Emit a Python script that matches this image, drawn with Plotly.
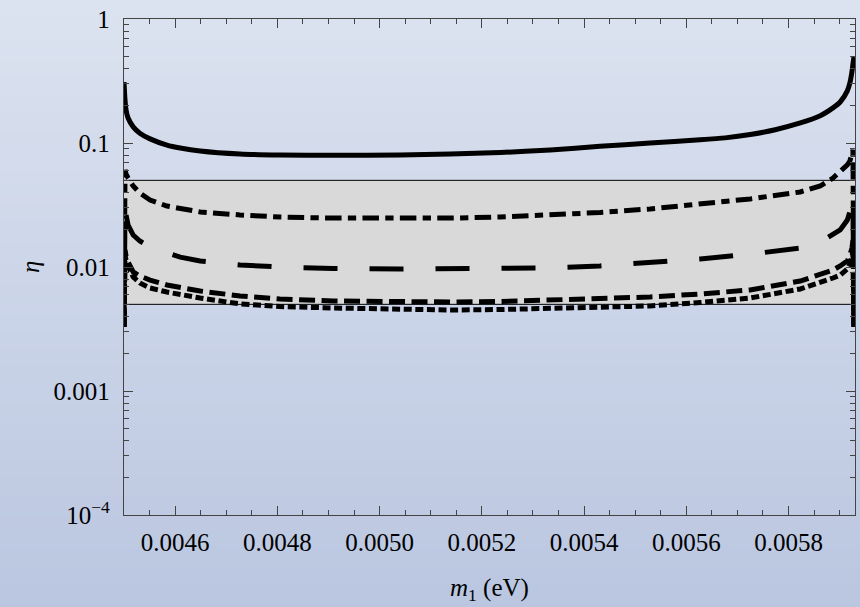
import plotly.graph_objects as go

# ---- data ----
m1 = [0.004500, 0.004502, 0.004504, 0.004508, 0.004518, 0.004531, 0.004551, 0.004584,
      0.004610, 0.004649, 0.004727, 0.004805, 0.004909, 0.005040, 0.005138, 0.005236,
      0.005334, 0.005431, 0.005529, 0.005627, 0.005725, 0.005823, 0.005862, 0.005887,
      0.005901, 0.005915, 0.005920, 0.005924, 0.005926, 0.005928]

m1_solid = [0.004500, 0.004502, 0.004504, 0.004508, 0.004518, 0.004531, 0.004551, 0.004584,
            0.004610, 0.004649, 0.004727, 0.004805, 0.004909, 0.005040, 0.005138, 0.005236,
            0.005334, 0.005431, 0.005529, 0.005627, 0.005676, 0.005725, 0.005774, 0.005823,
            0.005862, 0.005887, 0.005901, 0.005915, 0.005920, 0.005924, 0.005926, 0.005928]
eta_solid = [0.310, 0.222, 0.185, 0.159, 0.135, 0.120, 0.108, 0.0963,
             0.0912, 0.0862, 0.0815, 0.0800, 0.0795, 0.0800, 0.0815, 0.0838,
             0.0879, 0.0940, 0.100, 0.1060, 0.110, 0.117, 0.128, 0.145,
             0.166, 0.192, 0.214, 0.263, 0.305, 0.374, 0.434, 0.494]

eta_dashdot = [0.00328, 0.0606, 0.0562, 0.0522, 0.0450, 0.0395, 0.0347, 0.0310,
               0.0294, 0.0278, 0.0263, 0.0253, 0.0248, 0.0246, 0.0248, 0.0253,
               0.0263, 0.0275, 0.0294, 0.0322, 0.0354, 0.0403, 0.0450, 0.0522,
               0.0584, 0.0665, 0.0716, 0.0800, 0.0879, 0.00328]

eta_longdash = [0.00328, 0.0316, 0.0263, 0.0218, 0.0181, 0.0162, 0.0145, 0.0130,
                0.0120, 0.0112, 0.0104, 0.0100, 0.00973, 0.00964, 0.00964, 0.00973,
                0.00982, 0.0102, 0.0108, 0.0116, 0.0127, 0.0142, 0.0159, 0.0181,
                0.0199, 0.0239, 0.0272, 0.0316, 0.0359, 0.00328]

eta_dash = [0.00328, 0.0137, 0.0123, 0.0110, 0.00912, 0.00846, 0.00785, 0.00716,
            0.00683, 0.00640, 0.00584, 0.00552, 0.00532, 0.00522, 0.00522, 0.00527,
            0.00542, 0.00557, 0.00573, 0.00606, 0.00653, 0.00771, 0.00861, 0.00946,
            0.0102, 0.0112, 0.0125, 0.0142, 0.0165, 0.00328]

eta_dot = [0.00328, 0.0125, 0.0114, 0.0102, 0.0083, 0.00743, 0.00677, 0.00628,
           0.00600, 0.00562, 0.00504, 0.00480, 0.00467, 0.00454, 0.00450, 0.00454,
           0.00463, 0.00471, 0.00485, 0.00517, 0.00562, 0.00665, 0.00743, 0.00815,
           0.00861, 0.00964, 0.0106, 0.0118, 0.0132, 0.00328]

band_low = 0.005
band_high = 0.05
x_range = [0.0045, 0.00593]

x_tickvals = [0.0046, 0.0048, 0.0050, 0.0052, 0.0054, 0.0056, 0.0058]
x_ticktext = ["0.0046", "0.0048", "0.0050", "0.0052", "0.0054", "0.0056", "0.0058"]
y_tickvals = [1e-4, 1e-3, 1e-2, 1e-1, 1]
y_ticktext = ["10<sup>\u22124</sup>", "0.001", "0.01", "0.1", "1"]
y_minor = [d * 10.0 ** e for e in range(-4, 0) for d in range(2, 10)]

FONT = "Liberation Serif"
FRAME = "#444444"

fig = go.Figure()

# shaded band
fig.add_trace(go.Scatter(
    x=[x_range[0], x_range[1], x_range[1], x_range[0], x_range[0]],
    y=[band_low, band_low, band_high, band_high, band_low],
    fill="toself", fillcolor="#d9d9d9", mode="lines", line=dict(width=0),
    hoverinfo="skip", showlegend=False))
for yv in (band_low, band_high):
    fig.add_trace(go.Scatter(x=x_range, y=[yv, yv], mode="lines",
                             line=dict(color="black", width=1),
                             hoverinfo="skip", showlegend=False))

fig.add_trace(go.Scatter(x=m1_solid, y=eta_solid, mode="lines",
                         line=dict(color="black", width=5, shape="spline", smoothing=0.6),
                         showlegend=False))

styles = [
    (eta_dashdot, "16.5px,6.3px,8.3px,6.3px"),
    (eta_longdash, "34px,32px"),
    (eta_dash, "16px,6.5px"),
    (eta_dot, "8px,3.6px"),
]
for ys, dash in styles:
    fig.add_trace(go.Scatter(x=m1, y=ys, mode="lines",
                             line=dict(color="black", width=5, dash=dash),
                             showlegend=False))

# vertical gradient background
top = (220, 227, 240)
bot = (186, 198, 224)
n = 120
y0p, y1p = -0.2, 1.05
shapes = []
for i in range(n):
    t = i / (n - 1)
    c = tuple(round(top[k] + (bot[k] - top[k]) * t) for k in range(3))
    ya = y1p - (y1p - y0p) * i / n
    yb = y1p - (y1p - y0p) * (i + 1) / n - 0.002
    shapes.append(dict(type="rect", xref="paper", yref="paper", x0=-0.2, x1=1.02,
                       y0=yb, y1=ya, line=dict(width=0),
                       fillcolor="rgb(%d,%d,%d)" % c, layer="below"))

axis_common = dict(showline=True, linecolor=FRAME, linewidth=1.3, mirror="ticks",
                   ticks="inside", ticklen=9, tickwidth=1.2, tickcolor=FRAME,
                   showgrid=False, zeroline=False,
                   tickfont=dict(family=FONT, size=25, color="black"))

fig.update_layout(
    width=860, height=607,
    margin=dict(l=124, r=5, t=19, b=92),
    paper_bgcolor="rgb(205,214,234)",
    plot_bgcolor="rgba(0,0,0,0)",
    shapes=shapes,
    showlegend=False,
    xaxis=dict(range=x_range, tickmode="array", tickvals=x_tickvals, ticktext=x_ticktext,
               minor=dict(dtick=0.00005, tick0=0.0045, ticks="inside", ticklen=5,
                          tickwidth=1, tickcolor=FRAME, showgrid=False),
               ticklabelstandoff=5,
               **axis_common),
    yaxis=dict(type="log", range=[-4, 0], tickmode="array", tickvals=y_tickvals,
               ticktext=y_ticktext,
               minor=dict(tickvals=y_minor, ticks="inside", ticklen=5,
                          tickwidth=1, tickcolor=FRAME, showgrid=False),
               ticklabelstandoff=8,
               **axis_common),
    annotations=[
        dict(text="<i>m</i><sub>1</sub> (eV)", xref="paper", yref="paper",
             x=0.5, y=-0.151, xanchor="center", yanchor="middle", showarrow=False,
             font=dict(family=FONT, size=25, color="black")),
        dict(text="<i>\u03b7</i>", xref="paper", yref="paper",
             x=-0.1286, y=0.5, xanchor="center", yanchor="middle", showarrow=False,
             textangle=-90, font=dict(family=FONT, size=25, color="black")),
    ],
)

fig.write_html("out.html", config={"displayModeBar": False},
               post_script="document.body.style.margin='0';document.body.style.overflow='hidden';")
